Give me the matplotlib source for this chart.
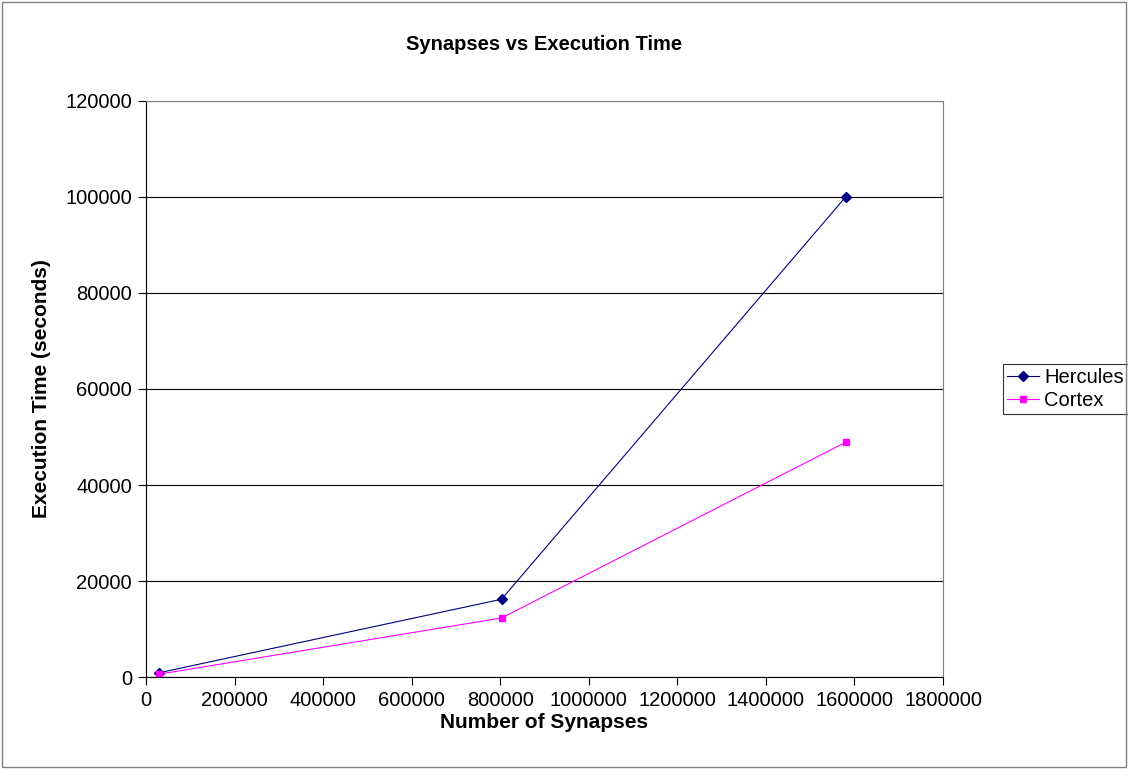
import matplotlib
matplotlib.use('Agg')
import matplotlib.pyplot as plt
from matplotlib.ticker import FuncFormatter

# data
synapses = [30000, 803000, 1580000]
hercules = [900, 16200, 100000]
cortex = [600, 12300, 48900]

plt.rcParams['font.family'] = ['Liberation Sans', 'DejaVu Sans']

fig = plt.figure(figsize=(11.28, 7.69), dpi=100)
ax = fig.add_axes([0.1294, 0.1196, 0.7066, 0.7491])

ax.plot(synapses, hercules, color='#000080', linewidth=0.8, marker='D',
        markersize=5, label='Hercules')
ax.plot(synapses, cortex, color='#FF00FF', linewidth=0.8, marker='s',
        markersize=5, label='Cortex')

ax.set_xlim(0, 1800000)
ax.set_ylim(0, 120000)
ax.set_xticks(range(0, 1800001, 200000))
ax.set_yticks(range(0, 120001, 20000))
ax.xaxis.set_major_formatter(FuncFormatter(lambda v, p: '%d' % v))
ax.yaxis.set_major_formatter(FuncFormatter(lambda v, p: '%d' % v))
ax.yaxis.grid(True, color='black', linewidth=0.8)
ax.set_axisbelow(True)
ax.tick_params(labelsize=14.5, direction='out', length=6, pad=4)

for s in ['top', 'right']:
    ax.spines[s].set_color('#808080')
for s in ['left', 'bottom']:
    ax.spines[s].set_color('black')

ax.set_title('Synapses vs Execution Time', fontsize=14.5, fontweight='bold', pad=37)
ax.set_xlabel('Number of Synapses', fontsize=15, fontweight='bold', labelpad=2)
ax.set_ylabel('Execution Time (seconds)', fontsize=15, fontweight='bold', labelpad=10)

leg = ax.legend(loc='center left', bbox_to_anchor=(1.075, 0.5), fontsize=14.5,
                frameon=True, fancybox=False, edgecolor='black', borderaxespad=0,
                handlelength=1.6, handletextpad=0.25, labelspacing=0.2,
                borderpad=0.2)
leg.get_frame().set_linewidth(0.8)

# outer frame
fig.patches.append(plt.Rectangle((0.002, 0.002), 0.996, 0.996, transform=fig.transFigure,
                                 fill=False, edgecolor='#808080', linewidth=1))

fig.savefig('out.png', dpi=100)
